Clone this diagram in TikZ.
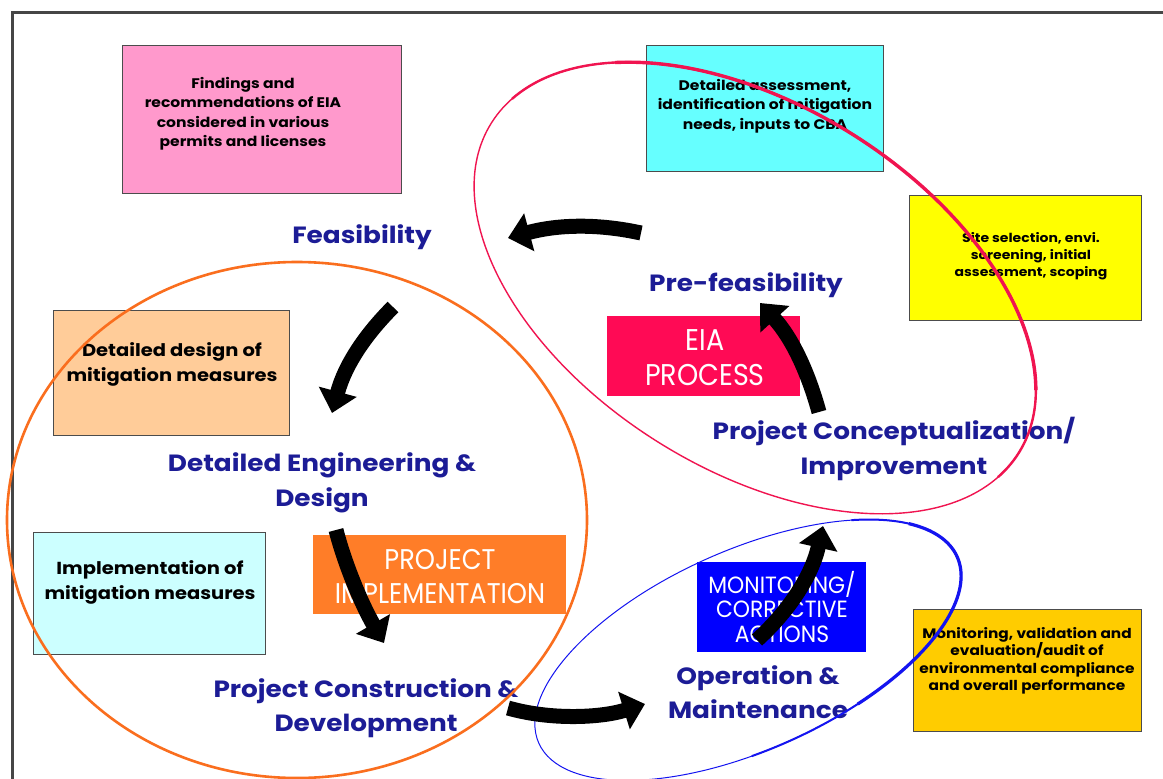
\documentclass[tikz,border=0pt]{standalone}
\usepackage{fontspec}
\setmainfont{Poppins}
\newfontfamily\widefont[FakeStretch=1.12]{Poppins}
\newfontfamily\eiafont[FakeStretch=0.9]{Poppins}
\newfontfamily\monfont[FakeStretch=0.93]{Poppins}
\usetikzlibrary{arrows.meta}
\definecolor{navy}{RGB}{28,28,150}
\definecolor{pinkbox}{RGB}{255,153,204}
\definecolor{cyanbox}{RGB}{102,255,255}
\definecolor{yellowbox}{RGB}{255,255,0}
\definecolor{peachbox}{RGB}{255,204,153}
\definecolor{lcyanbox}{RGB}{204,255,255}
\definecolor{goldbox}{RGB}{255,204,0}
\definecolor{eiared}{RGB}{255,10,85}
\definecolor{projorange}{RGB}{255,125,40}
\definecolor{monblue}{RGB}{0,0,255}
\definecolor{ellred}{RGB}{240,20,80}
\definecolor{ellorange}{RGB}{250,110,30}
\definecolor{ellblue}{RGB}{20,20,240}
\definecolor{frame}{RGB}{70,70,70}
\begin{document}
\begin{tikzpicture}[x=1pt,y=-1pt,
  box/.style={draw=gray!60!black, line width=1.2pt, anchor=north west, inner sep=0pt},
  boxtext/.style={align=center, text=black, font=\widefont\bfseries\fontsize{13.9}{19.5}\selectfont},
  bigboxtext/.style={align=center, text=black, font=\widefont\bfseries\fontsize{17.4}{25}\selectfont},
  stage/.style={text=navy, align=center, font=\widefont\bfseries\fontsize{23.5}{34.5}\selectfont},
  tag/.style={anchor=north west, inner sep=0pt},
  tagtext/.style={text=white, align=center, font=\eiafont\fontsize{30}{35}\selectfont},
  flow/.style={line width=15pt, black, -{Triangle[length=22pt,width=38pt]}},
]
\useasboundingbox (0,0) rectangle (1163,779);
\fill[white] (0,0) rectangle (1163,779);
\draw[frame, line width=3pt] (12,779) -- (12,12) -- (1163,12);

% boxes
\node[box, fill=pinkbox, minimum width=279pt, minimum height=148pt] (pink) at (122,45) {};
\node[boxtext] (pinkt) at (243,114) {Findings and\\recommendations of EIA\\considered in various\\permits and licenses};
\node[box, fill=cyanbox, minimum width=237pt, minimum height=126pt] (cyan) at (646,45) {};
\node[boxtext] (cyant) at (765,106) {Detailed assessment,\\identification of mitigation\\needs, inputs to CBA};
\node[box, fill=yellowbox, minimum width=232pt, minimum height=125pt] (yel) at (909,195) {};
\node[boxtext, font=\widefont\bfseries\fontsize{12.5}{17}\selectfont] (yelt) at (1031,256) {Site selection, envi.\\screening, initial\\assessment, scoping};
\node[box, fill=peachbox, minimum width=236pt, minimum height=125pt] (peach) at (53,310) {};
\node[bigboxtext] (peacht) at (172,364) {Detailed design of\\mitigation measures};
\node[box, fill=lcyanbox, minimum width=232pt, minimum height=122pt] (lcyan) at (33,532) {};
\node[bigboxtext] (lcyant) at (150,582) {Implementation of\\mitigation measures};
\node[box, fill=goldbox, minimum width=228pt, minimum height=122pt] (gold) at (913,609) {};
\node[boxtext, font=\widefont\bfseries\fontsize{13.7}{17.5}\selectfont] (goldt) at (1027,661) {Monitoring, validation and\\evaluation/audit of\\environmental compliance\\and overall performance};

% tag boxes
\node[tag, fill=eiared, minimum width=193pt, minimum height=80pt] (eia) at (607,316) {};
\node[tagtext] (eiat) at (705,358) {EIA\\PROCESS};
\node[tag, fill=projorange, minimum width=253pt, minimum height=79pt] (proj) at (313,535) {};
\node[tagtext, font=\eiafont\fontsize{28.5}{34}\selectfont] (projt) at (440,577) {PROJECT\\IMPLEMENTATION};
\node[tag, fill=monblue, minimum width=169pt, minimum height=90pt] (mon) at (697,562) {};
\node[tagtext, font=\monfont\fontsize{23.5}{24.5}\selectfont] (mont) at (782,607) {MONITORING/\\CORRECTIVE\\ACTIONS};

% stages
\node[stage] (feas) at (362,237) {Feasibility};
\node[stage] (pre) at (746,285) {Pre-feasibility};
\node[stage] (conc) at (894,449) {Project Conceptualization/\\Improvement};
\node[stage] (deteng) at (322,483) {Detailed Engineering \&\\Design};
\node[stage] (constr) at (366,708) {Project Construction \&\\Development};
\node[stage] (oper) at (758,692) {Operation \&\\Maintenance};

% ellipses
\draw[ellorange, line width=2.6pt] (297,520) ellipse [x radius=290, y radius=258];
\begin{scope}[shift={(755,288)}, rotate=-32]
  \draw[ellred, line width=1.4pt] (0,0) ellipse [x radius=311, y radius=182];
  \draw[ellred, line width=2.4pt] (-170:311 and 182) arc[start angle=-170, end angle=10, x radius=311, y radius=182];
  \draw[ellred, line width=3.4pt] (-140:311 and 182) arc[start angle=-140, end angle=-20, x radius=311, y radius=182];
\end{scope}
\begin{scope}[shift={(748,650)}, rotate=24]
  \draw[ellblue, line width=1pt] (0,0) ellipse [x radius=229, y radius=100];
  \draw[ellblue, line width=2pt] (-50:229 and 100) arc[start angle=-50, end angle=100, x radius=229, y radius=100];
  \draw[ellblue, line width=3.2pt] (-30:229 and 100) arc[start angle=-30, end angle=70, x radius=229, y radius=100];
\end{scope}

% arrows
\coordinate (a1s) at (641,233); \coordinate (a1e) at (508,238);
\coordinate (a2s) at (393,307); \coordinate (a2e) at (332,413);
\coordinate (a3s) at (336,530); \coordinate (a3e) at (384,643);
\coordinate (a4s) at (508,708); \coordinate (a4e) at (645,704);
\coordinate (a5s) at (757,640); \coordinate (a5e) at (823,526);
\coordinate (a6s) at (819,412); \coordinate (a6e) at (760,303);
\draw[flow] (a1s) .. controls (600,224) and (560,224) .. (a1e);
\draw[flow] (a2s) .. controls (365,335) and (345,365) .. (a2e);
\draw[flow] (a3s) .. controls (345,565) and (362,605) .. (a3e);
\draw[flow] (a4s) .. controls (550,720) and (600,718) .. (a4e);
\draw[flow] (a5s) .. controls (790,610) and (812,575) .. (a5e);
\draw[flow] (a6s) .. controls (808,372) and (792,338) .. (a6e);
\end{tikzpicture}
\end{document}
